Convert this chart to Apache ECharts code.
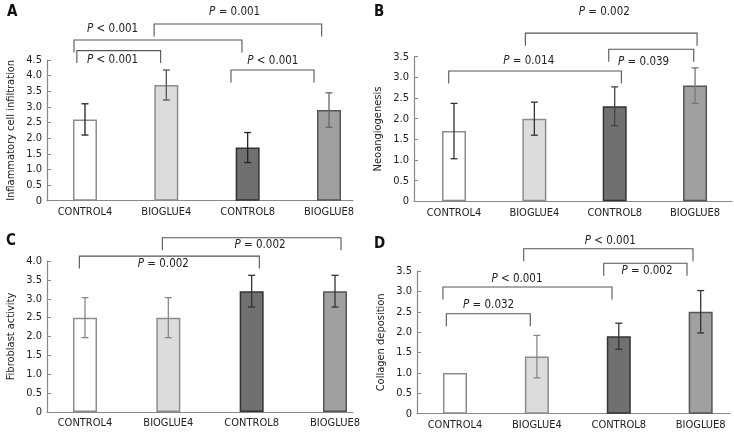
<!DOCTYPE html>
<html><head><meta charset="utf-8">
<script src="https://cdn.jsdelivr.net/npm/echarts@6/dist/echarts.min.js"></script>
<style>html,body{margin:0;padding:0;background:#fff}#c{width:734px;height:433px}</style>
</head><body><div id="c"></div>
<script>
// ---------- data ----------
const categories = ['CONTROL4', 'BIOGLUE4', 'CONTROL8', 'BIOGLUE8'];

const inflammationMean = [2.6, 3.7, 1.7, 2.9];
const inflammationErr  = [0.5, 0.48, 0.48, 0.55];
const inflammationP    = ['P < 0.001', 'P < 0.001', 'P = 0.001', 'P < 0.001'];

const neoangioMean = [1.7, 2.0, 2.3, 2.8];
const neoangioErr  = [0.67, 0.4, 0.47, 0.43];
const neoangioP    = ['P = 0.014', 'P = 0.039', 'P = 0.002'];

const fibroMean = [2.5, 2.5, 3.2, 3.2];
const fibroErr  = [0.53, 0.53, 0.42, 0.42];
const fibroP    = ['P = 0.002', 'P = 0.002'];

const collagenMean = [1.0, 1.4, 1.9, 2.5];
const collagenErr  = [0, 0.52, 0.32, 0.52];
const collagenP    = ['P = 0.032', 'P < 0.001', 'P = 0.002', 'P < 0.001'];

const yTicksMax = [4.5, 3.5, 4.0, 3.5];

// ---------- layout / style ----------
const FONT = "'DejaVu Sans Condensed', 'Liberation Sans Narrow', Roboto, sans-serif";
const barStyles = [
  { color: '#ffffff', borderColor: '#8c8c8c', borderWidth: 1.5 },
  { color: '#dcdcdc', borderColor: '#8c8c8c', borderWidth: 1.5 },
  { color: '#707070', borderColor: '#333333', borderWidth: 1.5 },
  { color: '#a0a0a0', borderColor: '#555555', borderWidth: 1.5 }
];
// bracket layout: [xStart, xEnd, lineLevel, textX, textY] (axis units)
const panels = [
  { letter: 'A', letterPos: [7, 5], name: 'Inflammatory cell infiltration',
    grid: { left: 47, top: 60, width: 306, height: 140.7 }, xMin: -0.467, xMax: 3.295,
    mean: inflammationMean, err: inflammationErr, p: inflammationP, yMax: yTicksMax[0],
    errColors: ['#222', '#555', '#222', '#666'],
    brackets: [[-0.10, 0.93, 4.80, 0.34, 4.50], [-0.135, 1.93, 5.14, 0.34, 5.49],
               [0.85, 2.91, 5.65, 1.84, 6.03], [1.795, 2.816, 4.18, 2.31, 4.47]] },
  { letter: 'B', letterPos: [374, 5], name: 'Neoangiogenesis',
    grid: { left: 414, top: 56.7, width: 318, height: 144.6 }, xMin: -0.498, xMax: 3.46,
    mean: neoangioMean, err: neoangioErr, p: neoangioP, yMax: yTicksMax[1],
    errColors: ['#333', '#333', '#444', '#777'],
    brackets: [[-0.066, 2.083, 3.154, 0.93, 3.40], [1.926, 2.984, 3.68, 2.36, 3.38],
               [0.888, 3.025, 4.07, 1.87, 4.59]] },
  { letter: 'C', letterPos: [6, 234], name: 'Fibroblast activity',
    grid: { left: 47, top: 261, width: 306, height: 151 }, xMin: -0.456, xMax: 3.216,
    mean: fibroMean, err: fibroErr, p: fibroP, yMax: yTicksMax[2],
    errColors: ['#888', '#888', '#333', '#333'],
    brackets: [[-0.068, 2.092, 4.13, 0.94, 3.91], [0.928, 3.072, 4.617, 2.10, 4.416]] },
  { letter: 'D', letterPos: [374, 237], name: 'Collagen deposition',
    grid: { left: 417, top: 271, width: 313, height: 142.7 }, xMin: -0.464, xMax: 3.358,
    mean: collagenMean, err: collagenErr, p: collagenP, yMax: yTicksMax[3],
    errColors: ['#333', '#888', '#333', '#333'],
    brackets: [[-0.106, 0.919, 2.453, 0.41, 2.659], [-0.147, 1.917, 3.108, 0.757, 3.297],
               [1.816, 2.833, 3.689, 2.344, 3.50], [0.839, 2.906, 4.047, 1.896, 4.236]] }
];

const chart = echarts.init(document.getElementById('c'), null, { renderer: 'canvas' });
const grids = [], xAxes = [], yAxes = [], series = [], graphics = [];

panels.forEach((pn, i) => {
  grids.push(Object.assign({ containLabel: false }, pn.grid));
  xAxes.push({
    type: 'value', gridIndex: i, min: pn.xMin, max: pn.xMax,
    axisLine: { show: true, onZero: false, lineStyle: { color: '#888', width: 1.2 } },
    axisTick: { show: false }, splitLine: { show: false },
    axisLabel: { customValues: [0, 1, 2, 3], formatter: v => categories[Math.round(v)] || '',
                 color: '#222', fontFamily: FONT, fontSize: 11, margin: 6 }
  });
  yAxes.push({
    type: 'value', gridIndex: i, min: 0, max: pn.yMax, interval: 0.5,
    name: pn.name, nameLocation: 'middle', nameRotate: 90, nameGap: 30,
    nameTextStyle: { color: '#222', fontFamily: FONT, fontSize: 11 },
    axisLine: { show: true, onZero: false, lineStyle: { color: '#888', width: 1.2 } },
    axisTick: { show: true, inside: true, length: 4, lineStyle: { color: '#888' } },
    splitLine: { show: false },
    axisLabel: { formatter: v => v === 0 ? '0' : v.toFixed(1), color: '#222',
                 fontFamily: FONT, fontSize: 11, margin: 5 }
  });
  series.push({
    type: 'bar', xAxisIndex: i, yAxisIndex: i, barWidth: 24, z: 2,
    data: pn.mean.map((v, k) => ({ value: [k, v], itemStyle: barStyles[k] }))
  });
  series.push({
    type: 'custom', xAxisIndex: i, yAxisIndex: i, z: 5, clip: false,
    encode: { x: 0, y: [1, 2] },
    data: pn.mean.map((v, k) => [k, v - pn.err[k], v + pn.err[k], pn.err[k]]),
    renderItem: (params, api) => {
      if (api.value(3) === 0) return null;
      const k = api.value(0);
      const lo = api.coord([k, api.value(1)]);
      const hi = api.coord([k, api.value(2)]);
      const c = pn.errColors[params.dataIndex];
      const st = { stroke: c, lineWidth: 1.3 };
      return { type: 'group', children: [
        { type: 'line', shape: { x1: lo[0], y1: lo[1], x2: hi[0], y2: hi[1] }, style: st },
        { type: 'line', shape: { x1: lo[0] - 3.5, y1: lo[1], x2: lo[0] + 3.5, y2: lo[1] }, style: st },
        { type: 'line', shape: { x1: hi[0] - 3.5, y1: hi[1], x2: hi[0] + 3.5, y2: hi[1] }, style: st }
      ] };
    }
  });
  series.push({
    type: 'custom', xAxisIndex: i, yAxisIndex: i, z: 6, clip: false,
    encode: { x: [0, 1], y: [2] },
    data: pn.brackets.map((b, k) => b.concat([k])),
    renderItem: (params, api) => {
      const a = api.coord([api.value(0), api.value(2)]);
      const b = api.coord([api.value(1), api.value(2)]);
      const t = api.coord([api.value(3), api.value(4)]);
      const label = pn.p[params.dataIndex].replace(/^P/, '{i|P}');
      return { type: 'group', children: [
        { type: 'polyline', shape: { points: [[a[0], a[1] + 12.5], a, b, [b[0], b[1] + 12.5]] },
          style: { stroke: '#555', lineWidth: 1.1, fill: null } },
        { type: 'text', x: t[0], y: t[1], style: {
            text: label, align: 'center', verticalAlign: 'middle',
            fill: '#222', font: '11.5px ' + FONT,
            rich: { i: { fontStyle: 'italic', fontFamily: FONT, fontSize: 11.5, fill: '#222' } } } }
      ] };
    }
  });
  graphics.push({ type: 'text', left: pn.letterPos[0], top: pn.letterPos[1],
    style: { text: pn.letter, font: 'bold 15px ' + FONT, fill: '#111' } });
});

chart.setOption({
  backgroundColor: '#fff', animation: false,
  grid: grids, xAxis: xAxes, yAxis: yAxes, series: series, graphic: graphics
});
</script></body></html>
